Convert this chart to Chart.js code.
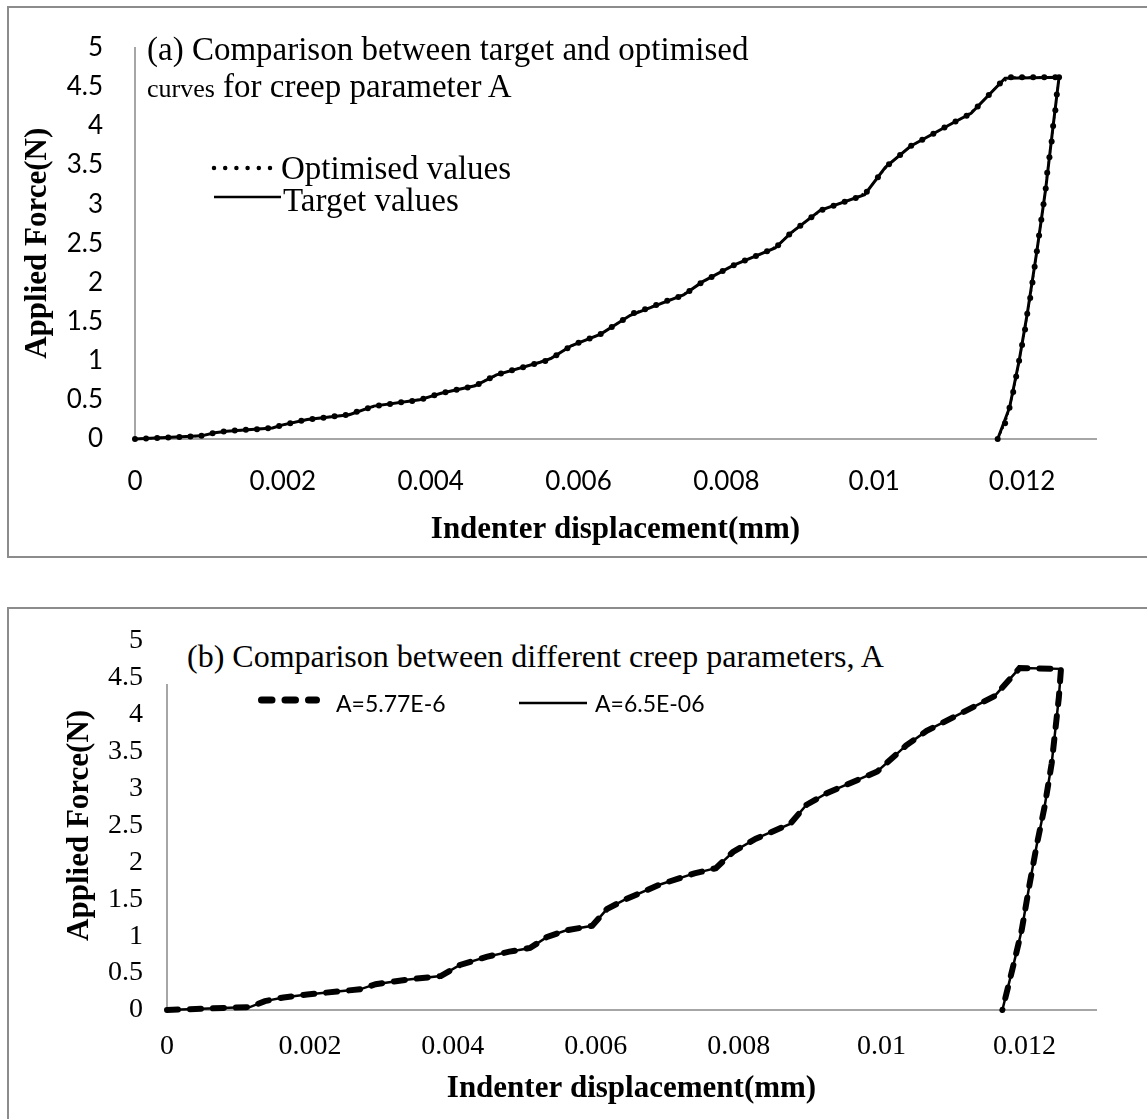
<!DOCTYPE html>
<html>
<head>
<meta charset="utf-8">
<script src="https://cdn.jsdelivr.net/npm/chart.js@4.4.1/dist/chart.umd.min.js"></script>
<style>
  html, body { margin: 0; padding: 0; background: #fff; }
  body { width: 1147px; height: 1119px; position: relative; overflow: hidden; }
  .frame { position: absolute; border: 2px solid #8c8c8c; box-sizing: content-box; z-index: 0; }
  canvas { position: absolute; left: 0; z-index: 1; }
  .cover { position: absolute; background: #fff; z-index: 2; }
  .txt { position: absolute; white-space: nowrap; line-height: 1; color: #000; z-index: 3; }
  .serif { font-family: "Liberation Serif", "Times New Roman", serif; font-size: 33px; }
  .sans { font-family: Lato, sans-serif; font-size: 23px; }
  svg { position: absolute; left: 0; top: 0; z-index: 3; pointer-events: none; }
</style>
</head>
<body>

<div class="frame" style="left:7px; top:6px; width:1200px; height:548px;"></div>
<div class="frame" style="left:7px; top:607px; width:1200px; height:600px;"></div>

<canvas id="chartA" width="1147" height="557" style="top:0;"></canvas>
<canvas id="chartB" width="1147" height="519" style="top:600px;"></canvas>

<div class="cover" style="left:150px; top:612px; width:760px; height:72px;"></div>

<!-- chart (a) caption and legend -->
<div class="txt serif" style="left:147px; top:33px;">(a) Comparison between target and optimised</div>
<div class="txt serif" style="left:147px; top:70px;"><span style="font-size:26px;">curves</span> for creep parameter A</div>
<div class="txt serif" style="left:281px; top:152px;">Optimised values</div>
<div class="txt serif" style="left:283px; top:184px;">Target values</div>

<!-- chart (b) caption and legend -->
<div class="txt serif" style="left:187px; top:640px; font-size:32px;">(b) Comparison between different creep parameters, A</div>
<div class="txt sans" style="left:336px; top:692px;">A=5.77E-6</div>
<div class="txt sans" style="left:595px; top:692px;">A=6.5E-06</div>

<svg width="1147" height="1119">
  <line x1="214" y1="168" x2="270" y2="168" stroke="#000" stroke-width="4.5" stroke-linecap="round" stroke-dasharray="0 11.2"/>
  <line x1="214" y1="197" x2="281" y2="197" stroke="#000" stroke-width="2.5"/>
  <line x1="261.5" y1="700" x2="316.5" y2="700" stroke="#000" stroke-width="7" stroke-linecap="round" stroke-dasharray="10.5 13"/>
  <line x1="519" y1="703" x2="587" y2="703" stroke="#000" stroke-width="2.5"/>
</svg>

<script>
// --- Axis ticks ---
const xTicks = [0, 0.002, 0.004, 0.006, 0.008, 0.01, 0.012];
const xTickLabels = ["0", "0.002", "0.004", "0.006", "0.008", "0.01", "0.012"];
const yTicks = [0, 0.5, 1, 1.5, 2, 2.5, 3, 3.5, 4, 4.5, 5];
const yTickLabels = ["0", "0.5", "1", "1.5", "2", "2.5", "3", "3.5", "4", "4.5", "5"];

// --- (a) optimised values (mm, N), one entry per marker ---
const optDisp = [
  0, 0.00015, 0.0003, 0.00045, 0.0006, 0.00075, 0.0009, 0.00105, 0.0012, 0.00135,
  0.0015, 0.00165, 0.0018, 0.00195, 0.0021, 0.00225, 0.0024, 0.00255, 0.0027, 0.00285,
  0.003, 0.00315, 0.0033, 0.00345, 0.0036, 0.00375, 0.0039, 0.00405, 0.0042, 0.00435,
  0.0045, 0.00465, 0.0048, 0.00495, 0.0051, 0.00525, 0.0054, 0.00555, 0.0057, 0.00585,
  0.006, 0.00615, 0.0063, 0.00645, 0.0066, 0.00675, 0.0069, 0.00705, 0.0072, 0.00735,
  0.0075, 0.00765, 0.0078, 0.00795, 0.0081, 0.00825, 0.0084, 0.00855, 0.0087, 0.00885,
  0.009, 0.00915, 0.0093, 0.00945, 0.0096, 0.00975, 0.0099, 0.01005, 0.0102, 0.01035,
  0.0105, 0.01065, 0.0108, 0.01095, 0.0111, 0.01125, 0.0114, 0.01155, 0.0117,
  0.01185, 0.012, 0.01215, 0.0123, 0.01245, 0.0125,
  0.01247, 0.01245, 0.01242, 0.0124, 0.01237, 0.01234, 0.01232, 0.01229, 0.01226, 0.01223,
  0.0122, 0.01217, 0.01214, 0.01211, 0.01207, 0.01204, 0.012, 0.01196, 0.01192, 0.01188,
  0.01183, 0.01177, 0.01167
];
const optForce = [
  0, 0.007, 0.013, 0.02, 0.027, 0.033, 0.04, 0.073, 0.095, 0.107,
  0.117, 0.126, 0.136, 0.166, 0.201, 0.233, 0.257, 0.273, 0.29, 0.306,
  0.347, 0.393, 0.429, 0.448, 0.468, 0.487, 0.515, 0.559, 0.597, 0.628,
  0.657, 0.704, 0.777, 0.836, 0.877, 0.918, 0.958, 0.996, 1.071, 1.16,
  1.228, 1.284, 1.34, 1.43, 1.52, 1.609, 1.659, 1.713, 1.767, 1.815,
  1.892, 1.99, 2.07, 2.145, 2.22, 2.279, 2.338, 2.397, 2.476, 2.612,
  2.724, 2.833, 2.93, 2.98, 3.03, 3.08, 3.157, 3.345, 3.51, 3.629,
  3.745, 3.823, 3.9, 3.978, 4.055, 4.13, 4.248, 4.395, 4.54,
  4.62, 4.62, 4.62, 4.62, 4.62, 4.62,
  4.4, 4.2, 4.0, 3.8, 3.6, 3.4, 3.2, 3.0, 2.8, 2.6,
  2.4, 2.2, 2.0, 1.8, 1.6, 1.4, 1.2, 1.0, 0.8, 0.6,
  0.4, 0.2, 0
];

// --- (a) target values ---
const tgtDisp = [
  0, 0.0009, 0.00108, 0.00124, 0.00186, 0.002, 0.00233, 0.0029, 0.00323, 0.00385,
  0.00414, 0.0046, 0.00489, 0.00548, 0.00563, 0.0059, 0.0063, 0.0067, 0.00742, 0.00768,
  0.0081, 0.00866, 0.00887, 0.00927, 0.00987, 0.01015, 0.01049, 0.01105, 0.01131, 0.01177,
  0.0125, 0.01242, 0.01232, 0.0122, 0.01207, 0.01196, 0.01183, 0.01167
];
const tgtForce = [
  0, 0.04, 0.08, 0.1, 0.14, 0.18, 0.25, 0.31, 0.42, 0.5,
  0.585, 0.68, 0.82, 0.98, 1.03, 1.19, 1.34, 1.58, 1.84, 2.01,
  2.22, 2.44, 2.63, 2.92, 3.12, 3.47, 3.74, 4.03, 4.16, 4.61,
  4.62, 4.0, 3.2, 2.4, 1.6, 1.0, 0.4, 0
];

// --- (b) A=5.77E-6 and A=6.5E-06 (the two curves lie on top of each other) ---
const bDisp = [
  0, 0.00116, 0.00137, 0.00163, 0.00196, 0.0027, 0.00292, 0.00335, 0.00383, 0.0041,
  0.00447, 0.00479, 0.00508, 0.00532, 0.00559, 0.00595, 0.00616, 0.00642, 0.0069, 0.00738,
  0.00768, 0.00792, 0.00824, 0.00872, 0.00895, 0.00924, 0.00994, 0.01034, 0.01063, 0.01158,
  0.01193, 0.01251, 0.01248, 0.01238, 0.01228, 0.01217, 0.01207, 0.01196, 0.01183, 0.01169
];
const bForce = [
  0, 0.04, 0.12, 0.17, 0.21, 0.28, 0.35, 0.41, 0.46, 0.61,
  0.72, 0.79, 0.84, 0.99, 1.08, 1.14, 1.37, 1.5, 1.7, 1.85,
  1.92, 2.14, 2.32, 2.52, 2.78, 2.94, 3.23, 3.58, 3.78, 4.25,
  4.63, 4.62, 4.23, 3.34, 2.75, 2.23, 1.7, 1.08, 0.55, 0
];

function pts(xs, ys) {
  return xs.map((x, i) => ({ x: x, y: ys[i] }));
}

// --- Shared axis setup ---
function makeScales(o) {
  const axisTitleFont = { family: "Liberation Serif", size: 31, weight: "bold", lineHeight: 1.2 };
  return {
    x: {
      type: "linear", min: 0, max: 0.013, bounds: "data",
      afterBuildTicks: s => { s.ticks = xTicks.map(v => ({ value: v })); },
      afterFit: s => { s.height = o.xHeight; },
      grid: { display: false, drawTicks: false },
      border: { display: true, color: "#a6a6a6", width: 2 },
      ticks: {
        padding: o.xPad, font: o.tickFont, color: "#000",
        maxRotation: 0, autoSkip: false,
        callback: (v, i) => xTickLabels[i]
      },
      title: {
        display: true, text: "Indenter displacement(mm)", color: "#000",
        font: axisTitleFont, padding: { top: 0, bottom: o.xTitlePad }
      }
    },
    y: {
      type: "linear", min: 0, max: 5, bounds: "data",
      afterBuildTicks: s => { s.ticks = yTicks.map(v => ({ value: v })); },
      afterFit: s => { s.width = o.yWidth; },
      grid: { display: false, drawTicks: false },
      border: { display: true, color: "#a6a6a6", width: 2 },
      ticks: {
        padding: o.yPad, font: o.tickFont, color: "#000", autoSkip: false,
        callback: (v, i) => yTickLabels[i]
      },
      title: {
        display: true, text: "Applied Force(N)", color: "#000",
        font: axisTitleFont, padding: { top: o.yTitlePad, bottom: 0 }
      }
    }
  };
}

const commonOptions = {
  responsive: false,
  animation: false,
  devicePixelRatio: 1,
  events: [],
  plugins: { legend: { display: false }, title: { display: false }, tooltip: { enabled: false } }
};

// --- Chart (a) ---
new Chart(document.getElementById("chartA"), {
  type: "scatter",
  data: {
    datasets: [
      {
        label: "Optimised values",
        data: pts(optDisp, optForce),
        showLine: true, clip: false, order: 0,
        borderColor: "#000", borderWidth: 2, borderDash: [2, 3],
        pointRadius: 3, pointBackgroundColor: "#000", pointBorderWidth: 0
      },
      {
        label: "Target values",
        data: pts(tgtDisp, tgtForce),
        showLine: true, clip: false, order: 1,
        borderColor: "#000", borderWidth: 3, pointRadius: 0
      }
    ]
  },
  options: Object.assign({}, commonOptions, {
    layout: { autoPadding: false, padding: { left: 0, top: 35, right: 51, bottom: 0 } },
    scales: makeScales({
      xHeight: 118, yWidth: 135,
      xPad: 27, yPad: 32,
      xTitlePad: 8, yTitlePad: 19,
      tickFont: { family: "Lato", size: 26, lineHeight: 1.2 }
    })
  })
});

// --- Chart (b) ---
new Chart(document.getElementById("chartB"), {
  type: "scatter",
  data: {
    datasets: [
      {
        label: "A=5.77E-6",
        data: pts(bDisp, bForce),
        showLine: true, clip: false, order: 0,
        borderColor: "#000", borderWidth: 6, borderDash: [11, 12],
        borderCapStyle: "round", pointRadius: 0
      },
      {
        label: "A=6.5E-06",
        data: pts(bDisp, bForce),
        showLine: true, clip: false, order: 1,
        borderColor: "#000", borderWidth: 2.5, pointRadius: 0
      }
    ]
  },
  options: Object.assign({}, commonOptions, {
    layout: { autoPadding: false, padding: { left: 0, top: 35, right: 51, bottom: 0 } },
    scales: makeScales({
      xHeight: 109, yWidth: 167,
      xPad: 20, yPad: 24,
      xTitlePad: 11, yTitlePad: 61,
      tickFont: { family: "Liberation Serif", size: 28, lineHeight: 1.2 }
    })
  })
});
</script>
</body>
</html>
